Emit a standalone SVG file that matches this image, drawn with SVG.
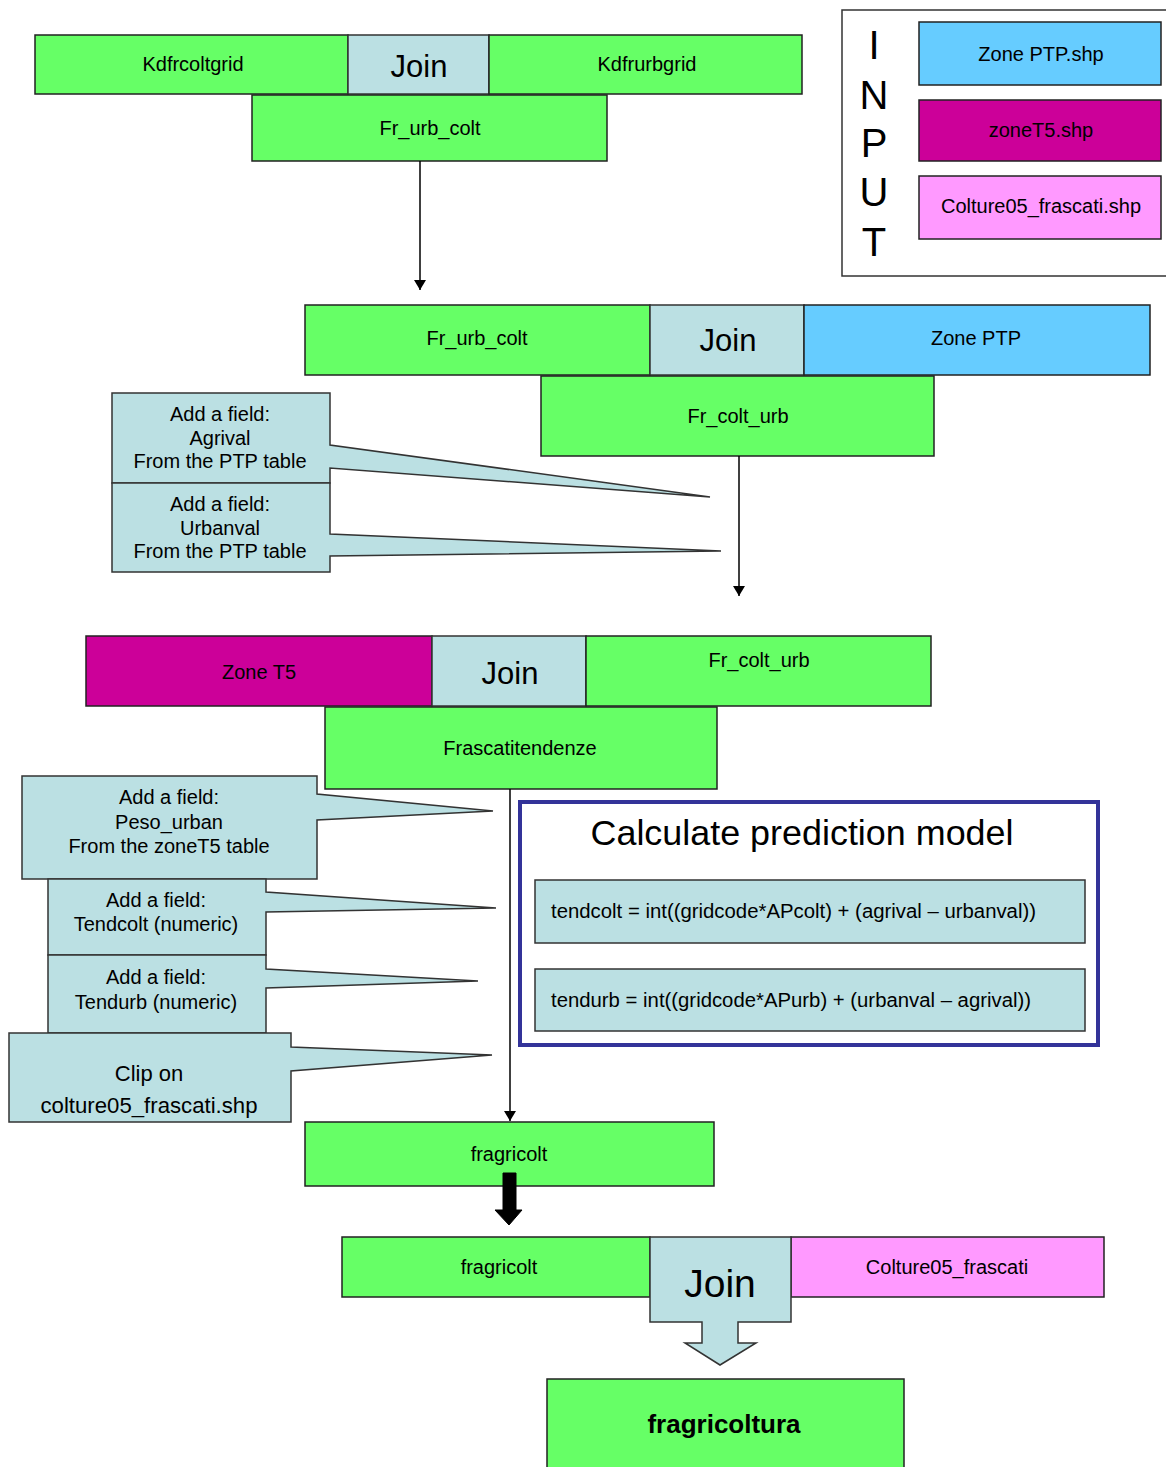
<svg xmlns="http://www.w3.org/2000/svg" width="1166" height="1467" viewBox="0 0 1166 1467">
<defs>
<marker id="ah" viewBox="0 0 10 12" refX="10" refY="6" markerWidth="10" markerHeight="12" markerUnits="userSpaceOnUse" orient="auto">
<path d="M0,0 L10,6 L0,12 z" fill="#000"/>
</marker>
<style>
.g{fill:#66FF66;stroke:#222;stroke-width:1.5}
.lb{fill:#BBE0E3;stroke:#333;stroke-width:1.5}
.bl{fill:#66CCFF;stroke:#222;stroke-width:1.5}
.mg{fill:#CC0099;stroke:#222;stroke-width:1.5}
.pk{fill:#FF99FF;stroke:#222;stroke-width:1.5}
text{font-family:"Liberation Sans",Arial,sans-serif;fill:#000}
.t{font-size:20px;text-anchor:middle}
.j{font-size:31px;text-anchor:middle}
.c{font-size:20px;text-anchor:middle}
.cl{font-size:22px;text-anchor:middle}
.in{font-size:40px;text-anchor:middle}
.f{font-size:20px}
.conn{stroke:#000;stroke-width:1.5;fill:none}
</style>
</defs>

<g id="input-legend">
<rect x="842" y="10" width="330" height="266" fill="#fff" stroke="#333" stroke-width="1.5"/>
<text class="in" x="874" y="59">I</text>
<text class="in" x="874" y="109">N</text>
<text class="in" x="874" y="157">P</text>
<text class="in" x="874" y="206">U</text>
<text class="in" x="874" y="256">T</text>
</g>
<g id="in-zoneptp"><rect class="bl" x="919" y="22" width="242" height="63"/><text class="t" x="1041" y="61">Zone PTP.shp</text></g>
<g id="in-zonet5"><rect class="mg" x="919" y="100" width="242" height="61"/><text class="t" x="1041" y="137">zoneT5.shp</text></g>
<g id="in-colture"><rect class="pk" x="919" y="176" width="242" height="63"/><text class="t" x="1041" y="213">Colture05_frascati.shp</text></g>

<g id="n-kdfrcoltgrid"><rect class="g" x="35" y="35" width="313" height="59"/><text class="t" x="193" y="71">Kdfrcoltgrid</text></g>
<g id="n-join1"><rect class="lb" x="348" y="35" width="141" height="59"/><text class="j" x="419" y="77">Join</text></g>
<g id="n-kdfrurbgrid"><rect class="g" x="489" y="35" width="313" height="59"/><text class="t" x="647" y="71">Kdfrurbgrid</text></g>
<g id="n-frurbcolt1"><rect class="g" x="252" y="95" width="355" height="66"/><text class="t" x="430" y="135">Fr_urb_colt</text></g>

<g id="n-frurbcolt2"><rect class="g" x="305" y="305" width="345" height="70"/><text class="t" x="477" y="345">Fr_urb_colt</text></g>
<g id="n-join2"><rect class="lb" x="650" y="305" width="154" height="70"/><text class="j" x="728" y="351">Join</text></g>
<g id="n-zoneptp"><rect class="bl" x="804" y="305" width="346" height="70"/><text class="t" x="976" y="345">Zone PTP</text></g>
<g id="n-frcolturb1"><rect class="g" x="541" y="376" width="393" height="80"/><text class="t" x="738" y="423">Fr_colt_urb</text></g>

<g id="call-agrival"><path class="lb" d="M112,393 H330 V445 L710,497 L330,468 V483 H112 z"/>
<text class="c" x="220" y="421">Add a field:</text><text class="c" x="220" y="445">Agrival</text><text class="c" x="220" y="468">From the PTP table</text></g>
<g id="call-urbanval"><path class="lb" d="M112,483 H330 V534 L721,551 L330,556 V572 H112 z"/>
<text class="c" x="220" y="511">Add a field:</text><text class="c" x="220" y="535">Urbanval</text><text class="c" x="220" y="558">From the PTP table</text></g>

<g id="n-zonet5"><rect class="mg" x="86" y="636" width="346" height="70"/><text class="t" x="259" y="679">Zone T5</text></g>
<g id="n-join3"><rect class="lb" x="432" y="636" width="154" height="70"/><text class="j" x="510" y="684">Join</text></g>
<g id="n-frcolturb2"><rect class="g" x="586" y="636" width="345" height="70"/><text class="t" x="759" y="667">Fr_colt_urb</text></g>
<g id="n-frascatitendenze"><rect class="g" x="325" y="707" width="392" height="82"/><text class="t" x="520" y="755">Frascatitendenze</text></g>

<g id="call-peso"><path class="lb" d="M22,776 H317 V794 L493,811 L317,820 V879 H22 z"/>
<text class="c" x="169" y="804">Add a field:</text><text class="c" x="169" y="829">Peso_urban</text><text class="c" x="169" y="853">From the zoneT5 table</text></g>
<g id="call-tendcolt"><path class="lb" d="M48,879 H266 V892 L496,908 L266,912 V955 H48 z"/>
<text class="c" x="156" y="907">Add a field:</text><text class="c" x="156" y="931">Tendcolt (numeric)</text></g>
<g id="call-tendurb"><path class="lb" d="M48,955 H266 V969 L478,981 L266,988 V1033 H48 z"/>
<text class="c" x="156" y="984">Add a field:</text><text class="c" x="156" y="1009">Tendurb (numeric)</text></g>
<g id="call-clip"><path class="lb" d="M9,1033 H291 V1047 L492,1055 L291,1071 V1122 H9 z"/>
<text class="cl" x="149" y="1081">Clip on</text><text class="cl" x="149" y="1113" textLength="217" lengthAdjust="spacingAndGlyphs">colture05_frascati.shp</text></g>

<g id="n-model">
<rect x="520" y="802" width="578" height="243" fill="#fff" stroke="#333399" stroke-width="4"/>
<text x="802" y="845" font-size="35" text-anchor="middle" textLength="423" lengthAdjust="spacingAndGlyphs">Calculate prediction model</text>
<rect class="lb" x="535" y="880" width="550" height="63"/>
<text class="f" x="551" y="918" textLength="485" lengthAdjust="spacingAndGlyphs">tendcolt = int((gridcode*APcolt) + (agrival – urbanval))</text>
<rect class="lb" x="535" y="969" width="550" height="62"/>
<text class="f" x="551" y="1007" textLength="480" lengthAdjust="spacingAndGlyphs">tendurb = int((gridcode*APurb) + (urbanval – agrival))</text>
</g>

<g id="n-fragricolt1"><rect class="g" x="305" y="1122" width="409" height="64"/><text class="t" x="509" y="1161">fragricolt</text></g>

<g id="n-fragricolt2"><rect class="g" x="342" y="1237" width="308" height="60"/><text class="t" x="499" y="1274">fragricolt</text></g>
<g id="n-colture"><rect class="pk" x="791" y="1237" width="313" height="60"/><text class="t" x="947" y="1274">Colture05_frascati</text></g>
<g id="n-join4"><path class="lb" d="M650,1237 H791 V1322 H738 V1343 H756 L720,1365 L685,1343 H702 V1322 H650 z"/>
<text x="720" y="1297" font-size="39" text-anchor="middle">Join</text></g>

<g id="n-fragricoltura"><rect class="g" x="547" y="1379" width="357" height="100"/><text x="724" y="1433" font-size="26" font-weight="bold" text-anchor="middle">fragricoltura</text></g>

<g id="connectors">
<line class="conn" x1="420" y1="161" x2="420" y2="290" marker-end="url(#ah)"/>
<line class="conn" x1="739" y1="456" x2="739" y2="596" marker-end="url(#ah)"/>
<line class="conn" x1="510" y1="789" x2="510" y2="1121" marker-end="url(#ah)"/>
<path d="M503,1173 H516 V1210 H522 L509,1225 L495,1210 H503 z" fill="#000" stroke="#000" stroke-width="1"/>
</g>
</svg>
